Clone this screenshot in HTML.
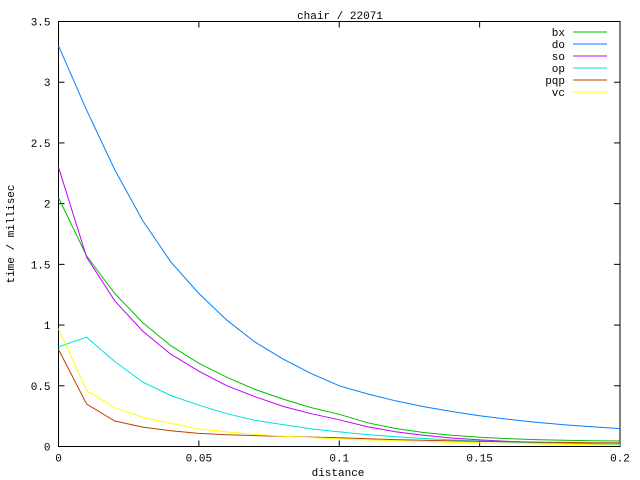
<!DOCTYPE html>
<html><head><meta charset="utf-8"><style>
html,body{margin:0;padding:0;background:#fff;}
svg{display:block;font-family:"Liberation Mono",monospace;font-size:11px;}
</style></head><body>
<svg id="s" width="640" height="480" xmlns="http://www.w3.org/2000/svg">
<rect width="640" height="480" fill="#fff"/>
<g id="g"></g>
<text x="340" y="19" text-anchor="middle">chair / 22071</text>
<text x="338" y="476" text-anchor="middle">distance</text>
<text transform="translate(14,234) rotate(-90)" text-anchor="middle">time / millisec</text>
</svg>
<script>
var L=58.5,R=620,T=21.5,B=446.5;
function X(v){return L+(R-L)*v/0.2;}
function Y(v){return B-(B-T)*v/3.5;}
var g=document.getElementById('g'),h='';
h+='<rect x="'+L+'" y="'+T+'" width="'+(R-L)+'" height="'+(B-T)+'" fill="none" stroke="#000"/>';
[0,0.5,1,1.5,2,2.5,3,3.5].forEach(function(v){var y=Y(v);h+='<line x1="'+L+'" y1="'+y+'" x2="'+(L+6)+'" y2="'+y+'" stroke="#000"/><line x1="'+R+'" y1="'+y+'" x2="'+(R-6)+'" y2="'+y+'" stroke="#000"/>';
h+='<text x="'+(L-8)+'" y="'+(y+4)+'" text-anchor="end">'+v+'</text>';});
[0,0.05,0.1,0.15,0.2].forEach(function(v){var x=X(v);h+='<line x1="'+x+'" y1="'+B+'" x2="'+x+'" y2="'+(B-6)+'" stroke="#000"/><line x1="'+x+'" y1="'+T+'" x2="'+x+'" y2="'+(T+6)+'" stroke="#000"/>';
h+='<text x="'+x+'" y="'+(B+15)+'" text-anchor="middle">'+v+'</text>';});
function ser(a,v15,v20){var v10=a[10],q=(v15-v20)/(v10-v15),A=(v10-v15)/(1-q),c=v10-A,p=[];
for(var i=0;i<=20;i++){var v=i<=10?a[i]:c+A*Math.pow(q,(i-10)/5);p.push(X(i*0.01).toFixed(1)+','+Y(v).toFixed(1));}return p.join(' ');}
var S=[
['bx','#00c000',[2.05,1.57,1.26,1.02,0.83,0.685,0.57,0.47,0.39,0.32,0.265],0.076,0.045],
['do','#0080ff',[3.3,2.77,2.28,1.86,1.52,1.26,1.04,0.86,0.72,0.6,0.5],0.254,0.147],
['so','#c000ff',[2.3,1.56,1.2,0.95,0.76,0.62,0.5,0.41,0.33,0.27,0.22],0.054,0.02],
['op','#00e0e0',[0.82,0.9,0.7,0.53,0.42,0.34,0.27,0.215,0.18,0.145,0.12],0.045,0.02],
['pqp','#c04000',[0.8,0.35,0.21,0.16,0.13,0.108,0.097,0.09,0.083,0.077,0.072],0.042,0.03],
['vc','#ffff00',[0.97,0.46,0.32,0.24,0.19,0.144,0.12,0.1,0.085,0.073,0.063],0.03,0.012]
];
S.forEach(function(s,k){h+='<polyline fill="none" stroke="'+s[1]+'" stroke-width="1" points="'+ser(s[2],s[3],s[4])+'"/>';
var y=32+12*k;h+='<text x="565" y="'+(y+4)+'" text-anchor="end">'+s[0]+'</text><line x1="573" y1="'+y+'" x2="607" y2="'+y+'" stroke="'+s[1]+'"/>';});
g.innerHTML=h;
</script>
</body></html>
